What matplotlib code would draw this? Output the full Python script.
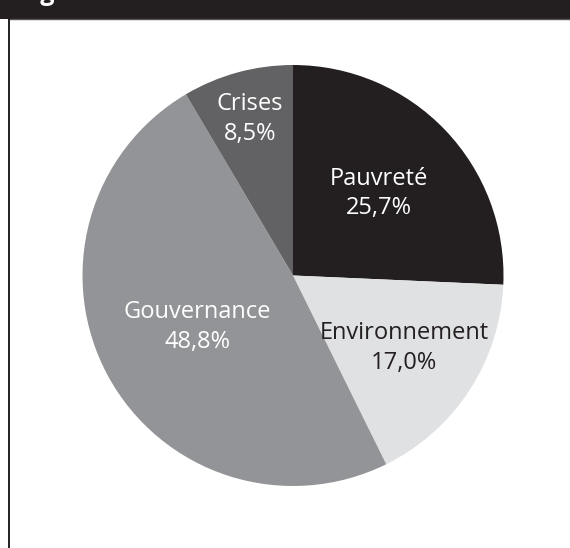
import matplotlib
matplotlib.use("Agg")
import matplotlib.pyplot as plt
import numpy as np
from matplotlib.patches import Rectangle
from matplotlib.lines import Line2D

# Répartition par thème
categories = ["Pauvreté", "Environnement", "Gouvernance", "Crises"]
values = [25.7, 17.0, 48.8, 8.5]
value_labels = ["25,7%", "17,0%", "48,8%", "8,5%"]

colors = ["#231f20", "#e0e1e3", "#939497", "#626264"]
text_colors = ["white", "#231f20", "white", "white"]
label_radius = [0.565, 0.63, 0.515, 0.77]

W, H = 570, 548
fig = plt.figure(figsize=(W / 100, H / 100), dpi=100)
fig.patch.set_facecolor("white")

# Title band and frame
band_h = 18.5
fig.add_artist(Rectangle((0, 1 - band_h / H), 1, band_h / H, transform=fig.transFigure,
                         facecolor="#231f20", edgecolor="none", zorder=0))
fig.add_artist(Line2D([8.5 / W, 1], [1 - (band_h + 0.5) / H] * 2, transform=fig.transFigure,
                      color="#555557", lw=1.0))
fig.add_artist(Line2D([8.5 / W, 8.5 / W], [0, 1 - band_h / H], transform=fig.transFigure,
                      color="#231f20", lw=1.4))
fig.text(20 / W, 1.0, "Figure", color="white", fontsize=18, fontweight="bold",
         family="Open Sans", ha="left", va="baseline")

# Pie
cx, cy, R = 293, 275.5, 210.5
ax = fig.add_axes([(cx - R) / W, (H - cy - R) / H, 2 * R / W, 2 * R / H])
wedges, _ = ax.pie(values, colors=colors, startangle=90, counterclock=False,
                   radius=1, wedgeprops=dict(linewidth=0))
ax.set_xlim(-1, 1)
ax.set_ylim(-1, 1)
ax.set_aspect("equal")
ax.axis("off")

for w, name, pct, tc, rf in zip(wedges, categories, value_labels, text_colors, label_radius):
    ang = np.deg2rad((w.theta1 + w.theta2) / 2)
    ax.text(rf * np.cos(ang), rf * np.sin(ang), f"{name}\n{pct}", color=tc,
            fontsize=17, family="Open Sans", ha="center", va="center",
            linespacing=1.3)

fig.savefig("out.png", dpi=100)
